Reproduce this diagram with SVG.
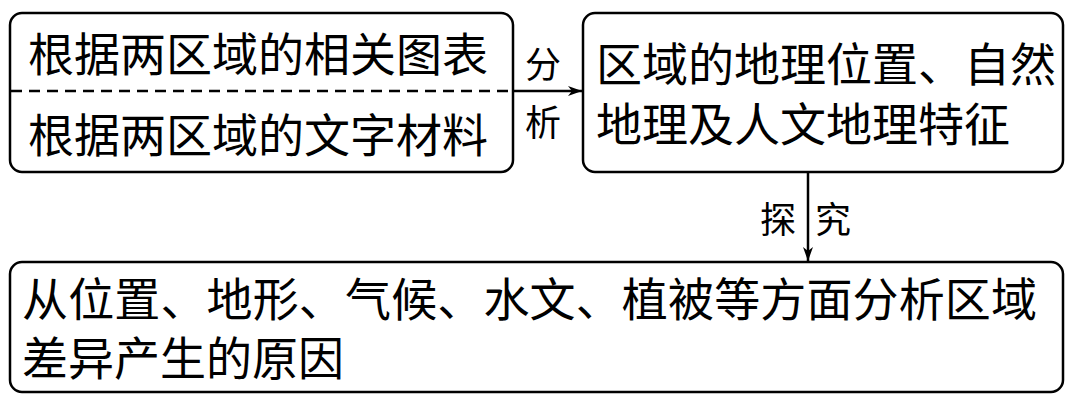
<svg xmlns="http://www.w3.org/2000/svg" width="1080" height="414" viewBox="0 0 1080 414">
  <style>
    .box { fill: #fff; stroke: #000; stroke-width: 2.5; }
    .t { font-family: "Liberation Serif", "Noto Sans CJK SC", serif; font-size: 46px; fill: #000; }
    .lbl { font-family: "Liberation Serif", "Noto Sans CJK SC", serif; font-size: 36px; fill: #000; }
    .ln { stroke: #000; stroke-width: 2.5; fill: none; }
  </style>
  <defs>
    <marker id="ah" viewBox="0 0 14 10" refX="14" refY="5" markerWidth="14" markerHeight="10" markerUnits="userSpaceOnUse" orient="auto">
      <path d="M0,0 L14,5 L0,10 L4,5 Z" fill="#000"/>
    </marker>
  </defs>
  <rect width="1080" height="414" fill="#fff"/>
  <g id="node-sources">
    <rect class="box" x="10" y="13" width="503" height="159" rx="12"/>
    <line class="ln" x1="11" y1="91" x2="512" y2="91" stroke-dasharray="11 7"/>
    <text class="t" x="28" y="71">根据两区域的相关图表</text>
    <text class="t" x="28" y="152">根据两区域的文字材料</text>
  </g>
  <g id="node-features">
    <rect class="box" x="583" y="13" width="480" height="159" rx="12"/>
    <text class="t" x="596" y="81">区域的地理位置、自然</text>
    <text class="t" x="596" y="141">地理及人文地理特征</text>
  </g>
  <g id="node-causes">
    <rect class="box" x="10" y="262" width="1053" height="130" rx="12"/>
    <text class="t" x="22" y="316" textLength="1015">从位置、地形、气候、水文、植被等方面分析区域</text>
    <text class="t" x="22" y="375">差异产生的原因</text>
  </g>
  <g id="connectors">
    <line class="ln" x1="513" y1="91" x2="582" y2="91" marker-end="url(#ah)"/>
    <text class="lbl" x="525" y="78">分</text>
    <text class="lbl" x="525" y="136">析</text>
    <line class="ln" x1="808" y1="172" x2="808" y2="261" marker-end="url(#ah)"/>
    <text class="lbl" x="760" y="233">探</text>
    <text class="lbl" x="815" y="233">究</text>
  </g>
</svg>
